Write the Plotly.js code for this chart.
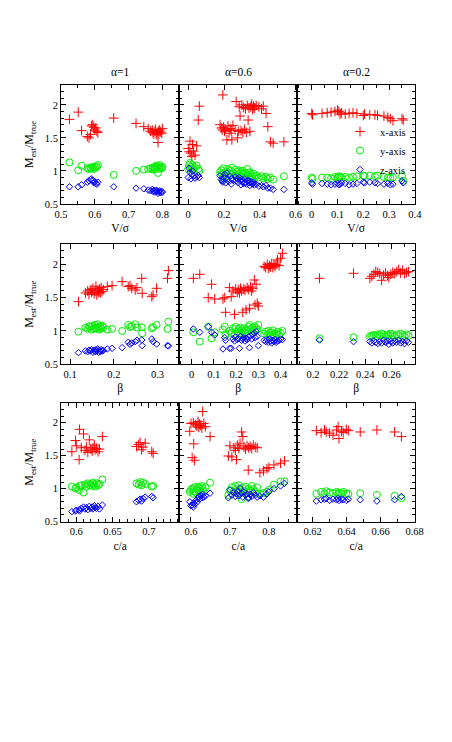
<!DOCTYPE html>
<html>
<head>
<meta charset="utf-8">
<script src="https://cdn.plot.ly/plotly-3.0.1.min.js"></script>
<style>html,body{margin:0;padding:0;background:#fff;}#plot{width:452px;height:742px;}</style>
</head>
<body>
<div id="plot"></div>
<script>
// ---- Data: M_est/M_true for projections along x, y, z axes ----
// Row 1: V/sigma
const v1_param = [0.525,0.551,0.561,0.578,0.583,0.587,0.59,0.594,0.597,0.6,0.603,0.606,0.609,0.656,0.722,0.745,0.758,0.765,0.77,0.772,0.775,0.778,0.78,0.782,0.785,0.787,0.788,0.79,0.792,0.795,0.798,0.80];
const v1_mx = [1.78,1.89,1.61,1.52,1.50,1.55,1.68,1.70,1.66,1.62,1.65,1.60,1.58,1.80,1.72,1.67,1.64,1.60,1.62,1.58,1.56,1.60,1.63,1.55,1.58,1.43,1.60,1.56,1.62,1.59,1.57,1.64];
const v1_my = [1.13,1.01,1.08,1.04,1.03,1.05,1.04,1.06,1.03,1.05,1.07,1.06,1.09,0.94,1.00,1.02,1.03,1.04,1.03,1.05,1.02,1.06,1.04,1.08,1.05,0.97,1.07,1.03,1.09,1.05,1.04,1.06];
const v1_mz = [0.76,0.76,0.79,0.83,0.85,0.87,0.88,0.86,0.82,0.84,0.81,0.80,0.83,0.76,0.74,0.73,0.71,0.70,0.72,0.69,0.70,0.68,0.71,0.69,0.70,0.66,0.69,0.68,0.70,0.67,0.69,0.68];

const v06_param = [0.000,0.005,0.010,0.015,0.020,0.024,0.030,0.038,0.047,0.056,0.062,0.178,0.185,0.19,0.197,0.203,0.21,0.216,0.222,0.228,0.235,0.24,0.244,0.25,0.193,0.262,0.268,0.275,0.28,0.285,0.29,0.295,0.30,0.305,0.31,0.315,0.32,0.325,0.33,0.335,0.34,0.345,0.35,0.355,0.36,0.365,0.37,0.38,0.395,0.41,0.42,0.435,0.445,0.46,0.475,0.535];
const v06_mx = [1.34,1.29,1.45,1.27,1.22,1.40,1.30,1.24,1.38,1.77,1.98,1.70,1.65,1.62,1.66,1.60,1.63,1.47,1.68,1.57,1.64,1.61,1.47,1.69,2.15,1.62,2.05,1.50,1.60,1.97,1.83,1.61,2.00,1.58,1.96,1.63,1.94,1.58,1.99,1.77,1.95,1.60,1.97,2.01,1.93,1.98,1.95,1.99,1.97,1.94,1.98,1.87,1.67,1.44,1.42,1.44];
const v06_my = [1.03,1.09,1.12,1.06,1.04,1.09,1.02,1.05,1.08,1.03,1.00,0.98,1.01,0.95,1.04,0.88,0.99,0.92,1.03,0.96,1.00,0.94,1.05,0.97,0.90,1.02,0.93,0.99,0.95,1.01,0.92,0.98,0.94,1.00,0.96,0.91,0.97,0.93,1.03,0.95,0.90,0.98,0.92,0.94,0.89,0.96,0.91,0.93,0.90,0.92,0.89,0.91,0.88,0.90,0.87,0.92];
const v06_mz = [0.90,1.04,0.98,0.88,0.95,1.00,0.92,0.89,0.91,0.93,0.90,0.93,0.87,0.85,0.90,0.95,0.82,0.97,0.88,0.84,0.92,0.80,0.89,0.86,0.83,0.91,0.85,0.88,0.82,0.90,0.86,0.79,0.87,0.84,0.81,0.88,0.83,0.80,0.85,0.86,0.82,0.78,0.84,0.81,0.80,0.83,0.79,0.80,0.77,0.78,0.76,0.78,0.74,0.74,0.72,0.72];

const v02_param = [0.0,0.003,0.04,0.06,0.075,0.09,0.1,0.105,0.11,0.115,0.13,0.145,0.16,0.175,0.2,0.205,0.225,0.245,0.255,0.28,0.295,0.305,0.315,0.35,0.355];
const v02_mx = [1.87,1.85,1.87,1.88,1.89,1.90,1.92,1.90,1.86,1.88,1.86,1.87,1.88,1.87,1.84,1.86,1.85,1.85,1.84,1.83,1.81,1.79,1.76,1.79,1.77];
const v02_my = [0.90,0.88,0.90,0.90,0.89,0.91,0.90,0.92,0.91,0.90,0.91,0.90,0.91,0.92,0.93,0.92,0.93,0.92,0.93,0.91,0.90,0.89,0.90,0.92,0.85];
const v02_mz = [0.82,0.80,0.81,0.80,0.79,0.80,0.81,0.79,0.80,0.82,0.81,0.79,0.80,0.81,0.83,0.82,0.83,0.82,0.81,0.80,0.81,0.79,0.80,0.85,0.82];

// Row 2: beta
const b1_param = [0.119,0.135,0.14,0.143,0.146,0.149,0.152,0.155,0.157,0.159,0.161,0.163,0.165,0.167,0.169,0.171,0.173,0.176,0.185,0.196,0.219,0.233,0.237,0.241,0.249,0.253,0.264,0.265,0.287,0.29,0.298,0.323,0.325];
const b1_mx = [1.44,1.57,1.60,1.55,1.62,1.58,1.64,1.56,1.60,1.67,1.54,1.61,1.58,1.63,1.57,1.65,1.59,1.62,1.665,1.68,1.74,1.665,1.68,1.64,1.615,1.65,1.79,1.565,1.515,1.54,1.64,1.79,1.905];
const b1_my = [0.99,1.05,1.03,1.07,1.06,1.02,1.08,1.04,1.09,1.05,1.03,1.10,1.06,1.02,1.07,1.04,1.08,1.05,1.02,1.03,1.00,1.09,1.06,1.07,1.10,1.05,1.055,0.965,1.04,1.06,1.09,1.03,1.14];
const b1_mz = [0.675,0.70,0.69,0.71,0.70,0.72,0.68,0.71,0.69,0.72,0.70,0.73,0.68,0.71,0.69,0.72,0.70,0.71,0.73,0.74,0.75,0.83,0.80,0.82,0.84,0.86,0.865,0.78,0.88,0.84,0.805,0.78,0.775];

const b06_param = [0.008,0.037,0.075,0.09,0.104,0.141,0.149,0.153,0.171,0.178,0.186,0.193,0.198,0.205,0.21,0.215,0.22,0.225,0.23,0.235,0.24,0.245,0.25,0.255,0.26,0.265,0.27,0.275,0.282,0.285,0.29,0.295,0.30,0.326,0.333,0.34,0.345,0.35,0.355,0.36,0.365,0.37,0.375,0.38,0.386,0.393,0.40,0.408];
const b06_mx = [1.79,1.85,1.50,1.70,1.48,1.48,1.50,1.28,1.65,1.515,1.60,1.25,1.63,1.58,1.62,1.57,1.64,1.60,1.28,1.63,1.61,1.315,1.65,1.62,1.34,1.66,1.60,1.64,1.765,1.39,1.70,1.415,1.375,1.97,1.95,2.00,1.94,1.98,1.96,2.01,1.95,1.99,1.97,2.00,2.065,1.98,2.09,2.165];
const b06_my = [0.98,0.84,1.065,0.89,0.98,1.02,1.065,0.95,1.00,0.97,1.04,0.94,1.06,0.99,1.03,0.96,1.05,1.01,0.98,1.04,0.97,1.02,1.00,1.06,1.09,1.03,0.99,1.05,1.07,1.01,1.04,1.02,1.09,0.96,0.99,0.94,1.00,0.97,0.93,0.98,1.01,0.95,0.92,0.96,0.99,0.94,0.97,1.00];
const b06_mz = [1.03,0.98,1.065,0.98,0.94,0.73,0.90,0.86,0.74,0.74,0.88,0.85,0.91,0.87,0.89,0.74,0.92,0.86,0.88,0.90,0.85,0.89,0.87,0.91,0.75,0.93,0.88,0.95,0.97,0.90,0.99,0.92,0.78,0.86,0.84,0.87,0.83,0.88,0.85,0.82,0.86,0.84,0.87,0.83,0.85,0.86,0.88,0.87];

const b02_param = [0.205,0.231,0.2435,0.245,0.2465,0.248,0.2495,0.251,0.2525,0.254,0.2555,0.257,0.258,0.2595,0.261,0.2625,0.264,0.2655,0.267,0.2685,0.270,0.2715,0.273];
const b02_mx = [1.79,1.865,1.79,1.82,1.85,1.89,1.88,1.86,1.76,1.84,1.87,1.83,1.80,1.85,1.88,1.86,1.89,1.92,1.87,1.91,1.86,1.88,1.89];
const b02_my = [0.89,0.905,0.92,0.93,0.94,0.92,0.95,0.93,0.96,0.94,0.92,0.95,0.93,0.96,0.94,0.92,0.95,0.93,0.96,0.94,0.92,0.95,0.93];
const b02_mz = [0.865,0.84,0.84,0.82,0.85,0.83,0.81,0.84,0.82,0.86,0.83,0.85,0.80,0.84,0.82,0.85,0.83,0.86,0.82,0.84,0.81,0.85,0.83];

// Row 3: c/a
const c1_param = [0.594,0.599,0.600,0.604,0.6046,0.607,0.61,0.612,0.614,0.616,0.618,0.62,0.622,0.623,0.625,0.626,0.628,0.63,0.632,0.636,0.683,0.686,0.688,0.690,0.692,0.695,0.704,0.706];
const c1_mx = [1.56,1.73,1.65,1.44,1.90,1.62,1.83,1.58,1.63,1.55,1.74,1.60,1.57,1.62,1.66,1.59,1.61,1.56,1.60,1.79,1.64,1.67,1.70,1.59,1.63,1.69,1.56,1.535];
const c1_my = [1.03,1.00,1.02,0.98,1.04,1.05,0.94,1.06,1.03,1.08,1.05,1.07,1.04,1.09,1.06,1.03,1.08,1.05,1.07,1.14,1.08,1.06,1.10,1.05,1.09,1.07,1.03,1.04];
const c1_mz = [0.65,0.66,0.67,0.68,0.66,0.70,0.72,0.69,0.71,0.68,0.73,0.70,0.72,0.69,0.74,0.71,0.70,0.73,0.69,0.75,0.80,0.82,0.84,0.81,0.85,0.87,0.88,0.86];

const c06_param = [0.597,0.600,0.603,0.606,0.607,0.609,0.612,0.615,0.618,0.62,0.622,0.625,0.628,0.63,0.633,0.637,0.649,0.696,0.70,0.705,0.71,0.714,0.717,0.72,0.723,0.726,0.73,0.733,0.736,0.74,0.744,0.748,0.752,0.756,0.76,0.765,0.77,0.747,0.777,0.786,0.795,0.80,0.813,0.83,0.84];
const c06_mx = [1.87,1.99,1.47,2.00,1.68,1.43,1.97,1.95,2.02,1.93,1.98,1.96,1.92,2.17,1.99,1.94,1.79,1.495,1.65,1.48,1.62,1.58,1.44,1.66,1.61,1.69,1.86,1.79,1.63,1.60,1.65,1.62,1.64,1.61,1.66,1.63,1.62,1.28,1.24,1.27,1.30,1.32,1.36,1.385,1.42];
const c06_my = [0.95,0.98,1.00,0.92,0.96,1.02,0.94,0.99,1.03,0.97,1.01,0.95,1.04,1.00,0.96,1.02,1.09,0.90,0.97,1.02,0.95,1.04,0.99,0.93,1.05,0.98,0.84,1.01,0.96,1.03,0.94,1.00,0.97,1.04,0.99,0.95,1.02,0.88,0.92,0.93,0.95,0.98,1.06,1.11,1.11];
const c06_mz = [0.80,0.74,0.75,0.72,0.78,0.76,0.82,0.79,0.85,0.88,0.84,0.90,0.86,0.91,0.87,0.89,0.93,0.86,0.98,0.90,0.94,0.88,0.92,0.96,0.89,1.01,0.93,0.87,0.95,0.90,0.92,0.86,0.91,0.88,0.94,0.90,0.87,0.85,0.89,0.87,0.92,0.95,1.00,1.04,1.08];

const c02_param = [0.6222,0.625,0.627,0.628,0.630,0.632,0.634,0.635,0.6355,0.637,0.638,0.6398,0.641,0.648,0.6578,0.6682,0.6722];
const c02_mx = [1.88,1.85,1.89,1.86,1.84,1.81,1.89,1.94,1.76,1.87,1.85,1.90,1.88,1.86,1.89,1.86,1.79];
const c02_my = [0.92,0.95,0.93,0.96,0.94,0.93,0.95,0.92,0.94,0.93,0.95,0.93,0.92,0.93,0.905,0.89,0.855];
const c02_mz = [0.81,0.83,0.84,0.85,0.82,0.84,0.83,0.85,0.82,0.84,0.83,0.82,0.84,0.83,0.81,0.83,0.88];

const columnTitles = ['α=1', 'α=0.6', 'α=0.2'];
const rowParamTitles = ['V/σ', 'β', 'c/a'];
const seriesNames = ['x-axis', 'y-axis', 'z-axis'];

const panels = [
  {p: v1_param,  s: [v1_mx, v1_my, v1_mz]},
  {p: v06_param, s: [v06_mx, v06_my, v06_mz]},
  {p: v02_param, s: [v02_mx, v02_my, v02_mz]},
  {p: b1_param,  s: [b1_mx, b1_my, b1_mz]},
  {p: b06_param, s: [b06_mx, b06_my, b06_mz]},
  {p: b02_param, s: [b02_mx, b02_my, b02_mz]},
  {p: c1_param,  s: [c1_mx, c1_my, c1_mz]},
  {p: c06_param, s: [c06_mx, c06_my, c06_mz]},
  {p: c02_param, s: [c02_mx, c02_my, c02_mz]}
];

// ---- Styling / layout ----
const W = 452, H = 742;
const FONT = 'Liberation Serif, Times New Roman, serif';
const colX = [[61, 179.3], [179.3, 297.3], [297.3, 415]];
const rowY = [[85, 204], [244.3, 364.3], [403, 521.5]];
const xRanges = [[0.5, 0.85], [-0.05, 0.61], [-0.056, 0.4005],
                 [0.079, 0.35], [-0.055, 0.475], [0.188, 0.278],
                 [0.579, 0.742], [0.57, 0.873], [0.611, 0.6802]];
const xDticks = [0.1, 0.2, 0.1, 0.1, 0.1, 0.02, 0.05, 0.1, 0.02];
const xMinor  = [0.05, 0.1, 0.05, 0.05, 0.05, 0.01, 0.01, 0.05, 0.01];
const markerStyles = [
  {symbol: 'cross-thin-open', color: '#ff0000', size: 7},
  {symbol: 'circle-open', color: '#00ee00', size: 7},
  {symbol: 'diamond-open', color: '#0000ff', size: 5}
];

const traces = [];
const layout = {
  width: W, height: H,
  margin: {l: 0, r: 0, t: 0, b: 0},
  paper_bgcolor: '#fff', plot_bgcolor: '#fff',
  font: {family: FONT, size: 10.5, color: '#000'},
  showlegend: true,
  legend: {x: 340 / W, y: 1 - 117 / H, xanchor: 'left', yanchor: 'top', tracegroupgap: 0,
           bgcolor: 'rgba(0,0,0,0)', font: {family: FONT, size: 10.5}, itemwidth: 30},
  annotations: []
};

panels.forEach((pan, i) => {
  const r = Math.floor(i / 3), c = i % 3;
  const xid = i === 0 ? 'x' : 'x' + (i + 1);
  const yid = i === 0 ? 'y' : 'y' + (i + 1);
  pan.s.forEach((ys, k) => {
    const m = markerStyles[k];
    traces.push({
      type: 'scatter', mode: 'markers', x: pan.p, y: ys,
      xaxis: xid, yaxis: yid, name: seriesNames[k],
      showlegend: i === 2,
      marker: {symbol: m.symbol, size: m.size, color: m.color, line: {color: m.color, width: 1}},
      hoverinfo: 'x+y'
    });
  });
  const axCommon = {
    showline: true, linecolor: '#000', linewidth: 1, mirror: 'allticks',
    ticks: 'inside', ticklen: 5, tickwidth: 1, tickcolor: '#000',
    showgrid: false, zeroline: false, fixedrange: true,
    tickfont: {family: FONT, size: 10.5, color: '#000'}
  };
  layout['xaxis' + (i === 0 ? '' : i + 1)] = Object.assign({}, axCommon, {
    anchor: yid,
    domain: [colX[c][0] / W, colX[c][1] / W],
    range: xRanges[i], tickmode: 'linear', tick0: 0, dtick: xDticks[i],
    minor: {dtick: xMinor[i], tick0: 0, ticks: 'inside', ticklen: 3, tickwidth: 1, tickcolor: '#000', showgrid: false},
    title: {text: rowParamTitles[r], font: {family: FONT, size: 11.5, color: '#000'}, standoff: 5}
  });
  const yax = Object.assign({}, axCommon, {
    anchor: xid,
    domain: [1 - rowY[r][1] / H, 1 - rowY[r][0] / H],
    range: [0.5, 2.3], tickmode: 'linear', tick0: 0.5, dtick: 0.5,
    minor: {dtick: 0.1, tick0: 0.5, ticks: 'inside', ticklen: 3, tickwidth: 1, tickcolor: '#000', showgrid: false},
    showticklabels: c === 0
  });
  if (c === 0) {
    yax.title = {text: 'M<sub>est</sub>/M<sub>true</sub>', font: {family: FONT, size: 12, color: '#000'}, standoff: 8};
  }
  layout['yaxis' + (i === 0 ? '' : i + 1)] = yax;
});

columnTitles.forEach((t, c) => {
  layout.annotations.push({
    text: t, xref: 'paper', yref: 'paper',
    x: (colX[c][0] + colX[c][1]) / 2 / W, y: 1 - 72 / H,
    xanchor: 'center', yanchor: 'middle', showarrow: false,
    font: {family: FONT, size: 11.5, color: '#000'}
  });
});

Plotly.newPlot('plot', traces, layout, {displayModeBar: false, staticPlot: true});
</script>
</body>
</html>
